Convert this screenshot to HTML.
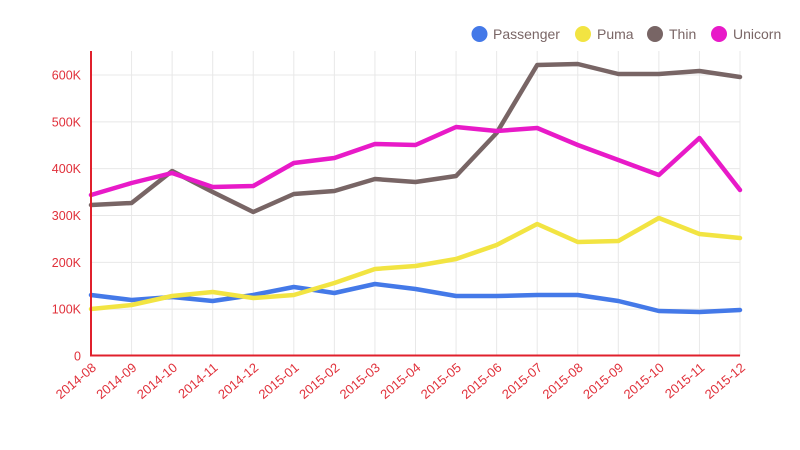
<!DOCTYPE html>
<html><head><meta charset="utf-8"><style>body{margin:0;background:#fff}svg{display:block}</style></head>
<body>
<svg width="800" height="450" xmlns="http://www.w3.org/2000/svg" font-family="Liberation Sans, sans-serif">
<g stroke="#e8e8e8" stroke-width="1" id="grid"></g>
<g id="lines" fill="none" stroke-width="4.5" stroke-linejoin="round" stroke-linecap="round"></g>
<line x1="91" y1="51" x2="91" y2="356" stroke="#e0202c" stroke-width="2"/>
<line x1="90" y1="355.5" x2="740" y2="355.5" stroke="#e0202c" stroke-width="2"/>
<g id="ylab" fill="#e0303a" font-size="12.5" text-anchor="end"></g>
<g id="xlab" fill="#e0303a" font-size="13" text-anchor="end"></g>
<g font-size="14" fill="#7a6666">
<circle cx="479.5" cy="34" r="8" fill="#4479e8"/><text x="493" y="39">Passenger</text>
<circle cx="583" cy="34" r="8" fill="#f2e442"/><text x="597" y="39">Puma</text>
<circle cx="655" cy="34" r="8" fill="#786565"/><text x="669" y="39">Thin</text>
<circle cx="719" cy="34" r="8" fill="#e81ac8"/><text x="733" y="39">Unicorn</text>
</g>
<script>
const ns="http://www.w3.org/2000/svg";
function el(t,a,p,txt){const e=document.createElementNS(ns,t);for(const k in a)e.setAttribute(k,a[k]);if(txt)e.textContent=txt;document.getElementById(p).appendChild(e);}
const X=i=>91+i*649/16;
for(let i=0;i<=16;i++)el('line',{x1:X(i),y1:51,x2:X(i),y2:356},'grid');
const yl=['0','100K','200K','300K','400K','500K','600K'];
for(let j=0;j<7;j++){const y=356-j*46.83;if(j>0)el('line',{x1:91,y1:y,x2:740,y2:y},'grid');el('text',{x:81,y:y+4.5},'ylab',yl[j]);}
const labs=['2014-08','2014-09','2014-10','2014-11','2014-12','2015-01','2015-02','2015-03','2015-04','2015-05','2015-06','2015-07','2015-08','2015-09','2015-10','2015-11','2015-12'];
labs.forEach((l,i)=>el('text',{x:X(i)+6,y:369,transform:`rotate(-40 ${X(i)+6} 369)`},'xlab',l));
const S=[
['#4479e8',[295,300,297,301,295,287,293,284,289,296,296,295,295,301,311,312,310]],
['#f2e442',[309,305,296,292,298,295,283,269,266,259,245,224,242,241,218,234,238]],
['#786565',[205,203,171,192,212,194,191,179,182,176,133,65,64,74,74,71,77]],
['#e81ac8',[195,183,173,187,186,163,158,144,145,127,131,128,145,160,175,138,190]]];
S.forEach(([c,d])=>el('polyline',{stroke:c,points:d.map((y,i)=>X(i)+','+y).join(' ')},'lines'));
</script>
</svg>
</body></html>
